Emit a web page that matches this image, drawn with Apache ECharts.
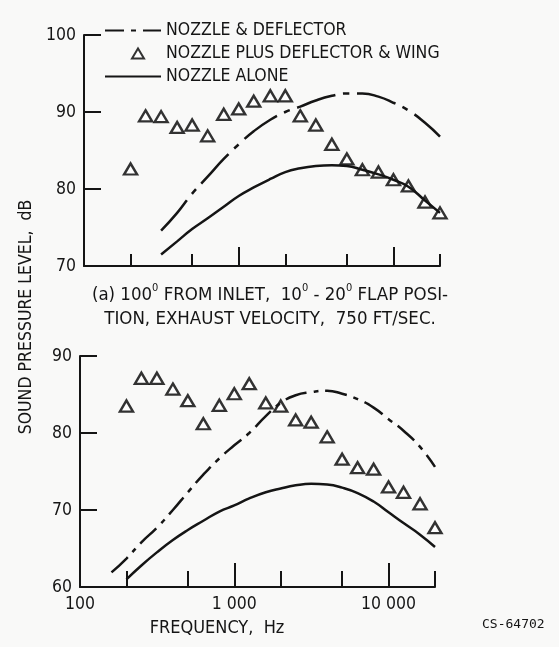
<!DOCTYPE html>
<html>
<head>
<meta charset="utf-8">
<script src="https://cdn.jsdelivr.net/npm/echarts@6/dist/echarts.min.js"></script>
<style>
  html, body { margin: 0; padding: 0; background: #f9f9f8; }
  #c { width: 559px; height: 647px; }
</style>
</head>
<body>
<div id="c"></div>
<script>
/* two stacked spectra, log frequency axis */
const INK = '#151515';
const FONT = "'Liberation Sans Narrow', 'DejaVu Sans Condensed', sans-serif";

// legend names
const NAMES = ['NOZZLE & DEFLECTOR', 'NOZZLE PLUS DEFLECTOR & WING', 'NOZZLE ALONE'];

// tick positions / labels
const MAJOR_TICKS = [1000, 10000];
const MINOR_TICKS = [200, 500, 2000, 5000, 20000];
const X_LABELS = [100, 1000, 10000];
const X_LABEL_TEXT = { 100: '100', 1000: '1 000', 10000: '10 000' };

// (a) top panel
const topTriFreq = [200, 250, 315, 400, 500, 630, 800, 1000, 1250, 1600, 2000, 2500, 3150, 4000, 5000, 6300, 8000, 10000, 12500, 16000, 20000];
const topTriDb   = [82.6, 89.5, 89.4, 88.0, 88.3, 86.9, 89.7, 90.4, 91.4, 92.1, 92.1, 89.5, 88.3, 85.8, 83.9, 82.5, 82.2, 81.2, 80.4, 78.3, 76.9];
const topDefFreq = [315, 400, 500, 630, 800, 1000, 1250, 1600, 2000, 2500, 3150, 4000, 5000, 6300, 8000, 10000, 12500, 16000, 20000];
const topDefDb   = [74.6, 76.9, 79.4, 81.6, 83.9, 85.8, 87.5, 89.0, 90.0, 90.7, 91.5, 92.1, 92.4, 92.4, 92.0, 91.2, 90.2, 88.6, 86.8];
const topNozFreq = [315, 400, 500, 630, 800, 1000, 1250, 1600, 2000, 2500, 3150, 4000, 5000, 6300, 8000, 10000, 12500, 16000, 20000];
const topNozDb   = [71.5, 73.2, 74.8, 76.2, 77.7, 79.1, 80.2, 81.3, 82.2, 82.7, 83.0, 83.1, 83.0, 82.5, 81.9, 81.2, 80.3, 78.5, 76.9];

// bottom panel
const botTriFreq = [200, 250, 315, 400, 500, 630, 800, 1000, 1250, 1600, 2000, 2500, 3150, 4000, 5000, 6300, 8000, 10000, 12500, 16000, 20000];
const botTriDb   = [83.5, 87.1, 87.1, 85.7, 84.2, 81.2, 83.6, 85.1, 86.4, 83.9, 83.5, 81.7, 81.4, 79.5, 76.6, 75.5, 75.3, 73.0, 72.3, 70.8, 67.7];
const botDefFreq = [160, 200, 250, 315, 400, 500, 630, 800, 1000, 1250, 1600, 2000, 2500, 3150, 4000, 5000, 6300, 8000, 10000, 12500, 16000, 20000];
const botDefDb   = [61.9, 63.7, 65.8, 67.7, 70.0, 72.3, 74.6, 76.7, 78.4, 80.0, 82.2, 83.9, 84.9, 85.3, 85.5, 85.1, 84.4, 83.3, 81.8, 80.3, 78.2, 75.6];
const botNozFreq = [200, 250, 315, 400, 500, 630, 800, 1000, 1250, 1600, 2000, 2500, 3150, 4000, 5000, 6300, 8000, 10000, 12500, 16000, 20000];
const botNozDb   = [61.0, 62.8, 64.5, 66.1, 67.4, 68.6, 69.8, 70.6, 71.5, 72.3, 72.8, 73.2, 73.4, 73.3, 72.9, 72.2, 71.1, 69.7, 68.3, 66.8, 65.2];

const pairs = (xs, ys) => xs.map((x, i) => [x, ys[i]]);

const txt = { color: INK, fontFamily: FONT, fontSize: 17.5 };

function xAx(grid, ticks, len, showLine, labels) {
  return {
    type: 'log', logBase: 10, gridIndex: grid, min: 100, max: 20000, position: 'bottom',
    axisLine: { show: showLine, lineStyle: { color: INK, width: 2 } },
    axisTick: { show: true, inside: true, length: len, customValues: ticks, lineStyle: { color: INK, width: 2 } },
    axisLabel: labels ? Object.assign({ show: true, margin: 8, customValues: labels, formatter: v => X_LABEL_TEXT[v] || '' }, txt) : { show: false },
    splitLine: { show: false }, minorTick: { show: false }, minorSplitLine: { show: false },
  };
}
function yAx(grid, min, max) {
  return {
    type: 'value', gridIndex: grid, min, max, interval: 10,
    axisLine: { show: true, lineStyle: { color: INK, width: 2 } },
    axisTick: { show: true, inside: true, length: 17, lineStyle: { color: INK, width: 2 } },
    axisLabel: Object.assign({ margin: 8 }, txt),
    splitLine: { show: false },
  };
}
function curve(name, xi, yi, data, dash) {
  return { name, type: 'line', xAxisIndex: xi, yAxisIndex: yi, data, smooth: true, symbol: 'none', silent: true,
    lineStyle: { color: INK, width: 2.5, type: dash || 'solid' }, itemStyle: { color: INK } };
}
function tri(xi, yi, data) {
  return { name: NAMES[1], type: 'scatter', xAxisIndex: xi, yAxisIndex: yi, data, symbol: 'triangle', symbolSize: [13, 11],
    itemStyle: { color: '#fff', borderColor: '#000', borderWidth: 2.4 } };
}

const chart = echarts.init(document.getElementById('c'), null, { renderer: 'canvas' });
chart.setOption({
  backgroundColor: '#f9f9f8',
  animation: false,
  textStyle: { fontFamily: FONT },
  grid: [
    { left: 84, top: 35, width: 356, height: 231 },
    { left: 80, top: 356, width: 355, height: 231 },
  ],
  xAxis: [
    xAx(0, MAJOR_TICKS, 19, true, null), xAx(0, MINOR_TICKS, 12, false, null),
    xAx(1, MAJOR_TICKS, 24, true, X_LABELS), xAx(1, MINOR_TICKS, 16, false, null),
  ],
  yAxis: [yAx(0, 70, 100), yAx(1, 60, 90)],
  legend: {
    left: 104, top: 20, padding: 0, orient: 'vertical', itemWidth: 56, itemHeight: 14, itemGap: 2,
    selectedMode: false, textStyle: Object.assign({ lineHeight: 21 }, txt),
    data: [
      { name: NAMES[0], itemStyle: { opacity: 0 }, lineStyle: { type: [19, 7, 5, 7] } },
      { name: NAMES[1], icon: 'path://M0,0 M56,14 M27,12 L33,2 L39,12 Z' },
      { name: NAMES[2], itemStyle: { opacity: 0 } },
    ],
  },
  title: [
    { text: '(a) 100{s|0} FROM INLET,  10{s|0} - 20{s|0} FLAP POSI-\nTION, EXHAUST VELOCITY,  750 FT/SEC.',
      left: 265, top: 278, textAlign: 'center',
      textStyle: Object.assign({ fontWeight: 'normal', lineHeight: 24 }, txt, { fontSize: 18.5,
        rich: { s: { fontSize: 11, fontFamily: FONT, color: INK, verticalAlign: 'top', lineHeight: 24, padding: [0, 0, 8, 0] } } }) },
    { text: 'CS-64702', left: 477, top: 613, textStyle: { color: INK, fontFamily: "'DejaVu Sans Mono', monospace", fontSize: 13, fontWeight: 'normal' } },
  ],
  graphic: [
    { type: 'text', x: 26, y: 317, rotation: Math.PI / 2,
      style: { text: 'SOUND PRESSURE LEVEL,  dB', align: 'center', verticalAlign: 'middle', fill: INK, font: '17.5px ' + FONT } },
    { type: 'text', x: 217, y: 628,
      style: { text: 'FREQUENCY,  Hz', align: 'center', verticalAlign: 'middle', fill: INK, font: '18px ' + FONT } },
  ],
  series: [
    curve(NAMES[0], 0, 0, pairs(topDefFreq, topDefDb), [40, 8, 6, 8]),
    tri(0, 0, pairs(topTriFreq, topTriDb)),
    curve(NAMES[2], 0, 0, pairs(topNozFreq, topNozDb), null),
    curve(NAMES[0], 2, 1, pairs(botDefFreq, botDefDb), [22, 7, 5, 7]),
    tri(2, 1, pairs(botTriFreq, botTriDb)),
    curve(NAMES[2], 2, 1, pairs(botNozFreq, botNozDb), null),
  ],
});
</script>
</body>
</html>
